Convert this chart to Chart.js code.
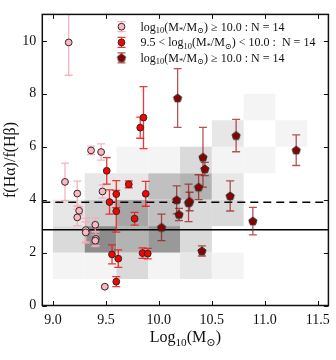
<!DOCTYPE html>
<html><head><meta charset="utf-8">
<script src="https://cdn.jsdelivr.net/npm/chart.js@4/dist/chart.umd.min.js"></script>
<style>html,body{margin:0;padding:0;background:#fff;}canvas{display:block;}</style>
</head><body>
<canvas id="c" width="336" height="360"></canvas>
<script>
// ---- data ----
const lowX   = [9.149, 9.114, 9.23, 9.36, 9.455, 9.468, 9.248, 9.23, 9.31, 9.31, 9.40, 9.405, 9.40, 9.49];
const lowY   = [9.94, 4.67, 4.23, 5.86, 5.80, 4.31, 3.58, 3.33, 2.85, 2.76, 3.05, 2.52, 2.45, 0.71];
const lowErr = [1.24, 0.71, 0.47, 0.16, 0.31, 0.25, 0.15, 0.31, 0.45, 0.40, 0.26, 0.26, 0.22, 0.05];

const midX   = [9.855, 9.824, 9.508, 9.716, 9.876, 9.598, 9.534, 9.598, 9.771, 9.558, 9.617, 9.846, 9.895, 9.598];
const midY   = [7.10, 6.72, 5.09, 4.58, 4.22, 4.21, 3.91, 3.56, 3.28, 1.93, 1.77, 1.98, 1.96, 0.90];
const midErr = [1.17, 0.40, 0.50, 0.13, 0.47, 0.51, 0.46, 0.79, 0.24, 0.36, 0.33, 0.20, 0.20, 0.19];

const highX   = [10.177, 10.729, 11.296, 10.416, 10.434, 10.375, 10.673, 10.168, 10.28, 10.29, 10.19, 10.887, 10.406, 10.025];
const highY   = [7.84, 6.42, 5.87, 5.60, 5.16, 4.47, 4.14, 3.99, 3.88, 3.93, 3.44, 3.19, 2.06, 2.95];
const highErr = [1.11, 0.61, 0.58, 1.13, 0.25, 0.47, 0.57, 0.53, 0.71, 0.35, 0.23, 0.52, 0.19, 0.50];

const seriesLabels = [
  "log_{10}(M_{*}/M_{⊙}) ≥ 10.0 : N = 14",
  "9.5 < log_{10}(M_{*}/M_{⊙}) < 10.0 :  N = 14",
  "log_{10}(M_{*}/M_{⊙}) ≥ 10.0 : N = 14"
];
const xTitle = "Log_{10}(M_{⊙})";
const yTitle = "f(Hα)/f(Hβ)";

// background 2D histogram (counts), rows from bottom (y 1-2) to top (y 7-8)
const histXEdges = [9.0, 9.3, 9.6, 9.9, 10.2, 10.5, 10.8, 11.1, 11.4];
const histYEdges = [1, 2, 3, 4, 5, 6, 7, 8];
const histCounts = [
  [1, 1, 3, 1, 2, 1, 0, 0],
  [3, 9, 6, 8, 3, 0, 0, 0],
  [2, 4, 7, 5, 3, 3, 0, 0],
  [0, 2, 2, 5, 6, 2, 0, 0],
  [0, 0, 1, 1, 3, 1, 1, 0],
  [0, 0, 0, 0, 0, 2, 0, 1],
  [0, 0, 0, 0, 0, 0, 1, 0]
];

const caseBLine = 2.86;   // solid
const meanLine  = 3.9;    // dashed

const xTicks = [9.0, 9.5, 10.0, 10.5, 11.0, 11.5];
const yTicks = [0, 2, 4, 6, 8, 10];

// ---- styles ----
const FONT = "'Liberation Serif', 'DejaVu Serif', serif";
const colors = {
  low:  {fill: '#ffb6c1', err: 'rgba(245,170,185,0.9)'},
  mid:  {fill: '#ff0000', err: 'rgba(240,20,20,0.85)'},
  high: {fill: '#8b0000', err: 'rgba(150,20,20,0.72)'}
};

function makePentagon(fill) {
  const c = document.createElement('canvas');
  c.width = 12; c.height = 12;
  const g = c.getContext('2d');
  g.beginPath();
  const r = 4.3;
  for (let k = 0; k < 5; k++) {
    const a = -Math.PI / 2 + k * 2 * Math.PI / 5;
    const px = 6 + r * Math.cos(a), py = 6.3 + r * Math.sin(a);
    k ? g.lineTo(px, py) : g.moveTo(px, py);
  }
  g.closePath();
  g.fillStyle = fill; g.fill();
  g.strokeStyle = '#2a2a2a'; g.lineWidth = 1; g.stroke();
  return c;
}
const pentagon = makePentagon(colors.high.fill);

function parseRich(s) {
  const segs = [];
  const re = /_\{([^}]*)\}/g;
  let last = 0, m;
  while ((m = re.exec(s))) {
    if (m.index > last) segs.push({t: s.slice(last, m.index), sub: false});
    segs.push({t: m[1], sub: true});
    last = re.lastIndex;
  }
  if (last < s.length) segs.push({t: s.slice(last), sub: false});
  return segs;
}
function richWidth(ctx, segs, size) {
  let w = 0;
  for (const s of segs) {
    ctx.font = (s.sub ? size * 0.7 : size) + 'px ' + FONT;
    w += ctx.measureText(s.t).width;
  }
  return w;
}
function drawRich(ctx, str, x, y, size, align) {
  const segs = parseRich(str);
  const w = richWidth(ctx, segs, size);
  let cx = align === 'center' ? x - w / 2 : x;
  ctx.textBaseline = 'alphabetic';
  ctx.textAlign = 'left';
  for (const s of segs) {
    ctx.font = (s.sub ? size * 0.7 : size) + 'px ' + FONT;
    ctx.fillText(s.t, cx, y + (s.sub ? size * 0.22 : 0));
    cx += ctx.measureText(s.t).width;
  }
}

const decor = {
  id: 'decor',
  beforeDatasetsDraw(chart) {
    const {ctx, chartArea: a, scales: {x, y}} = chart;
    ctx.save();
    ctx.beginPath(); ctx.rect(a.left, a.top, a.right - a.left, a.bottom - a.top); ctx.clip();
    // histogram
    for (let r = 0; r < histCounts.length; r++) {
      for (let c = 0; c < histCounts[r].length; c++) {
        const n = histCounts[r][c];
        if (!n) continue;
        const g = Math.round(257 - 13 * n);
        ctx.fillStyle = `rgb(${g},${g},${g})`;
        const x0 = x.getPixelForValue(histXEdges[c]), x1 = x.getPixelForValue(histXEdges[c + 1]);
        const y0 = y.getPixelForValue(histYEdges[r]), y1 = y.getPixelForValue(histYEdges[r] + 1);
        ctx.fillRect(x0, y1, x1 - x0, y0 - y1);
      }
    }
    // reference lines
    ctx.strokeStyle = '#000'; ctx.lineWidth = 1.6;
    let py = y.getPixelForValue(caseBLine);
    ctx.beginPath(); ctx.moveTo(a.left, py); ctx.lineTo(a.right, py); ctx.stroke();
    py = y.getPixelForValue(meanLine);
    ctx.setLineDash([8, 5]);
    ctx.beginPath(); ctx.moveTo(a.left, py); ctx.lineTo(a.right, py); ctx.stroke();
    ctx.setLineDash([]);
    // error bars
    const sets = [[lowX, lowY, lowErr, colors.low.err], [midX, midY, midErr, colors.mid.err], [highX, highY, highErr, colors.high.err]];
    for (const [xs, ys, es, col] of sets) {
      ctx.strokeStyle = col; ctx.lineWidth = 1.3;
      for (let i = 0; i < xs.length; i++) {
        const px = x.getPixelForValue(xs[i]);
        const t = y.getPixelForValue(ys[i] + es[i]), b = y.getPixelForValue(ys[i] - es[i]);
        ctx.beginPath();
        ctx.moveTo(px, t); ctx.lineTo(px, b);
        ctx.moveTo(px - 4, t); ctx.lineTo(px + 4, t);
        ctx.moveTo(px - 4, b); ctx.lineTo(px + 4, b);
        ctx.stroke();
      }
    }
    ctx.restore();
  },
  afterDraw(chart) {
    const {ctx, chartArea: a, scales: {x, y}} = chart;
    ctx.save();
    // frame
    ctx.strokeStyle = '#111'; ctx.lineWidth = 1.5;
    ctx.strokeRect(a.left, a.top, a.right - a.left, a.bottom - a.top);
    // inward ticks
    ctx.lineWidth = 1;
    ctx.beginPath();
    for (const v of xTicks) {
      const px = Math.round(x.getPixelForValue(v)) + 0.5;
      ctx.moveTo(px, a.bottom); ctx.lineTo(px, a.bottom - 4.5);
      ctx.moveTo(px, a.top); ctx.lineTo(px, a.top + 4.5);
    }
    for (const v of yTicks) {
      const py = Math.round(y.getPixelForValue(v)) + 0.5;
      ctx.moveTo(a.left, py); ctx.lineTo(a.left + 4.5, py);
      ctx.moveTo(a.right, py); ctx.lineTo(a.right - 4.5, py);
    }
    ctx.stroke();
    // legend
    const rows = [26.7, 42.4, 57.8];
    const lx = 121.5, tx = 140.5;
    const legendSets = [colors.low, colors.mid, colors.high];
    chart.data.datasets.forEach((ds, i) => {
      const ry = rows[i];
      ctx.strokeStyle = legendSets[i].err; ctx.lineWidth = 1.3;
      ctx.beginPath();
      ctx.moveTo(lx, ry - 5); ctx.lineTo(lx, ry + 5);
      ctx.moveTo(lx - 4, ry - 5); ctx.lineTo(lx + 4, ry - 5);
      ctx.moveTo(lx - 4, ry + 5); ctx.lineTo(lx + 4, ry + 5);
      ctx.stroke();
      if (i < 2) {
        ctx.beginPath(); ctx.arc(lx, ry, 3.4, 0, Math.PI * 2);
        ctx.fillStyle = legendSets[i].fill; ctx.fill();
        ctx.strokeStyle = '#2a2a2a'; ctx.lineWidth = 1; ctx.stroke();
      } else {
        ctx.drawImage(pentagon, lx - 6, ry - 6);
      }
      ctx.fillStyle = '#111';
      drawRich(ctx, ds.label, tx, ry + 4, 12, 'left');
    });
    // axis titles
    ctx.fillStyle = '#111';
    drawRich(ctx, xTitle, (a.left + a.right) / 2, 342, 16, 'center');
    ctx.translate(15, (a.top + a.bottom) / 2);
    ctx.rotate(-Math.PI / 2);
    drawRich(ctx, yTitle, 0, 0, 16, 'center');
    ctx.restore();
  }
};

const pt = (xs, ys) => xs.map((v, i) => ({x: v, y: ys[i]}));

new Chart(document.getElementById('c'), {
  type: 'scatter',
  data: {
    datasets: [
      {label: seriesLabels[0], data: pt(lowX, lowY), pointStyle: 'circle', pointRadius: 3.4,
       backgroundColor: colors.low.fill, borderColor: '#2a2a2a', borderWidth: 1, order: 3},
      {label: seriesLabels[1], data: pt(midX, midY), pointStyle: 'circle', pointRadius: 3.4,
       backgroundColor: colors.mid.fill, borderColor: '#2a2a2a', borderWidth: 1, order: 2},
      {label: seriesLabels[2], data: pt(highX, highY), pointStyle: pentagon, pointRadius: 4,
       backgroundColor: colors.high.fill, borderColor: '#2a2a2a', borderWidth: 1, order: 1}
    ]
  },
  options: {
    responsive: false, animation: false, devicePixelRatio: 1,
    layout: {padding: {top: 13, right: 3, left: 0, bottom: 0}},
    plugins: {legend: {display: false}, tooltip: {enabled: false}},
    scales: {
      x: {
        type: 'linear', min: 8.9, max: 11.6,
        afterBuildTicks: s => { s.ticks = xTicks.map(v => ({value: v})); },
        afterFit: s => { s.height = 54.5; },
        grid: {display: false, drawTicks: false},
        border: {display: false},
        ticks: {padding: 6, color: '#111', font: {family: FONT, size: 14},
                callback: v => Number(v).toFixed(1), maxRotation: 0, autoSkip: false}
      },
      y: {
        type: 'linear', min: 0, max: 11,
        afterBuildTicks: s => { s.ticks = yTicks.map(v => ({value: v})); },
        afterFit: s => { s.width = 42.3; },
        grid: {display: false, drawTicks: false},
        border: {display: false},
        ticks: {padding: 6, color: '#111', font: {family: FONT, size: 14}, autoSkip: false}
      }
    }
  },
  plugins: [decor]
});
</script>
</body></html>
